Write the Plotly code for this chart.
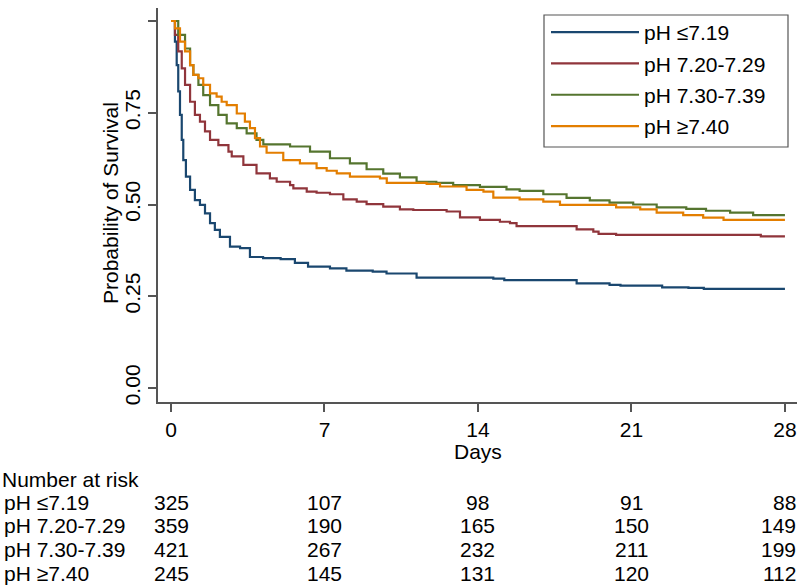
import plotly.graph_objects as go

# ---- data ----
group_names = ["pH ≤7.19", "pH 7.20-7.29", "pH 7.30-7.39", "pH ≥7.40"]
group_colors = ["#1a476f", "#90353b", "#55752f", "#e37e00"]

days_g1 = [0, 0.18, 0.26, 0.33, 0.41, 0.49, 0.56, 0.68, 0.87, 1.09, 1.32, 1.55, 1.78, 2.0, 2.23, 2.69,
           3.15, 3.6, 4.2, 5.0, 5.65, 6.25, 7.25, 8.0, 9.2, 9.83, 11.2, 14.7, 15.2, 18.5, 20.0, 20.5,
           22.4, 23.6, 24.3, 28.0]
surv_g1 = [1.0, 0.944, 0.88, 0.808, 0.744, 0.676, 0.621, 0.576, 0.540, 0.512, 0.499, 0.476, 0.449, 0.431,
           0.412, 0.385, 0.381, 0.357, 0.354, 0.351, 0.341, 0.331, 0.326, 0.320, 0.317, 0.312, 0.301,
           0.298, 0.294, 0.285, 0.281, 0.279, 0.274, 0.273, 0.270, 0.270]

days_g2 = [0, 0.18, 0.33, 0.49, 0.64, 0.87, 1.09, 1.32, 1.55, 1.78, 2.16, 2.62, 2.77, 3.3, 3.9, 4.51,
           4.82, 5.43, 5.58, 6.19, 6.64, 7.25, 7.86, 8.47, 8.92, 9.68, 10.44, 11.05, 12.57, 13.18, 14.09,
           15.0, 15.46, 15.76, 18.5, 19.26, 19.5, 20.3, 26.9, 28.0]
surv_g2 = [1.0, 0.962, 0.917, 0.871, 0.826, 0.780, 0.744, 0.726, 0.699, 0.676, 0.662, 0.644, 0.631, 0.608,
           0.585, 0.571, 0.562, 0.553, 0.544, 0.535, 0.532, 0.528, 0.514, 0.508, 0.501, 0.494, 0.487,
           0.485, 0.481, 0.465, 0.458, 0.453, 0.449, 0.441, 0.432, 0.426, 0.420, 0.417, 0.413, 0.413]

days_g3 = [0, 0.33, 0.64, 0.87, 1.02, 1.25, 1.47, 1.78, 2.16, 2.54, 3.0, 3.45, 3.9, 4.21, 5.43, 6.34,
           7.25, 8.16, 8.92, 9.68, 10.44, 11.2, 12.1, 12.87, 14.09, 15.3, 15.9, 16.98, 18.04, 19.1, 20.0,
           21.08, 22.15, 23.5, 24.4, 25.5, 26.55, 28.0]
surv_g3 = [1.0, 0.962, 0.925, 0.880, 0.853, 0.826, 0.798, 0.771, 0.744, 0.721, 0.708, 0.694, 0.676, 0.664,
           0.658, 0.644, 0.626, 0.612, 0.596, 0.584, 0.574, 0.562, 0.559, 0.553, 0.548, 0.541, 0.537,
           0.528, 0.518, 0.511, 0.505, 0.500, 0.492, 0.488, 0.483, 0.478, 0.471, 0.471]

days_g4 = [0, 0.18, 0.41, 0.64, 0.87, 1.02, 1.25, 1.47, 1.78, 2.08, 2.31, 2.54, 3.0, 3.37, 3.6, 3.83,
           4.06, 4.36, 5.12, 5.88, 6.64, 7.1, 7.56, 8.16, 9.53, 9.84, 11.66, 12.27, 13.48, 14.25, 14.7,
           15.9, 16.98, 17.74, 20.3, 21.4, 22.15, 23.36, 24.27, 25.2, 28.0]
surv_g4 = [1.0, 0.98, 0.944, 0.917, 0.880, 0.853, 0.844, 0.826, 0.803, 0.794, 0.780, 0.771, 0.748, 0.726,
           0.708, 0.681, 0.658, 0.641, 0.621, 0.612, 0.599, 0.592, 0.585, 0.576, 0.571, 0.559, 0.556,
           0.549, 0.540, 0.535, 0.519, 0.514, 0.508, 0.499, 0.492, 0.487, 0.478, 0.471, 0.464, 0.458, 0.458]

x_ticks = [0, 7, 14, 21, 28]
y_ticks = [0.0, 0.25, 0.5, 0.75, 1.0]
y_tick_labels = ["0.00", "0.25", "0.50", "0.75", "1.00"]
x_title = "Days"
y_title = "Probability of Survival"
risk_title = "Number at risk"

risk_times = [0, 7, 14, 21, 28]
risk_g1 = [325, 107, 98, 91, 88]
risk_g2 = [359, 190, 165, 150, 149]
risk_g3 = [421, 267, 232, 211, 199]
risk_g4 = [245, 145, 131, 120, 112]

# ---- figure ----
FONT = "Liberation Sans, Arial, sans-serif"
FS = 21
W, H = 800, 587
ML, MR, MT, MB = 158, 3, 8, 185
PW = W - ML - MR
PH = H - MT - MB
AX = "#555555"

days_all = [days_g1, days_g2, days_g3, days_g4]
surv_all = [surv_g1, surv_g2, surv_g3, surv_g4]
risk_all = [risk_g1, risk_g2, risk_g3, risk_g4]

fig = go.Figure()
for i in range(4):
    fig.add_trace(go.Scatter(
        x=days_all[i], y=surv_all[i], mode="lines", name=group_names[i],
        line=dict(color=group_colors[i], width=2.2, shape="hv"),
        legendgroup=f"g{i}",
    ))

def py_to_paper(py):
    return (H - MB - py) / PH

def px_to_paper(px):
    return (px - ML) / PW

txt = dict(family=FONT, size=FS, color="#000")
annotations = []
# axis titles
annotations.append(dict(xref="x", yref="paper", x=14, y=py_to_paper(451), text=x_title,
                        showarrow=False, xanchor="center", yanchor="middle", font=txt))
annotations.append(dict(xref="paper", yref="paper", x=px_to_paper(110), y=py_to_paper(203), text=y_title,
                        textangle=-90, showarrow=False, xanchor="center", yanchor="middle", font=txt))
# number at risk table
annotations.append(dict(xref="paper", yref="paper", x=px_to_paper(0), y=py_to_paper(479),
                        text=risk_title, showarrow=False, xanchor="left", yanchor="middle", font=txt))
row_y = [502, 525, 549, 573]
for i in range(4):
    annotations.append(dict(xref="paper", yref="paper", x=px_to_paper(2), y=py_to_paper(row_y[i]),
                            text=group_names[i], showarrow=False, xanchor="left", yanchor="middle",
                            font=txt))
    for j, (t, n) in enumerate(zip(risk_times, risk_all[i])):
        last = j == len(risk_times) - 1
        annotations.append(dict(xref="x", yref="paper", x=t, y=py_to_paper(row_y[i]),
                                text=str(n), showarrow=False,
                                xanchor="right" if last else "center",
                                xshift=13 if last else 0, yanchor="middle", font=txt))

# legend frame
shapes = [dict(type="rect", xref="paper", yref="paper",
               x0=px_to_paper(544), x1=px_to_paper(788), y0=py_to_paper(147), y1=py_to_paper(15),
               line=dict(color=AX, width=1.2), fillcolor="rgba(0,0,0,0)", layer="above")]

fig.update_layout(
    width=W, height=H,
    margin=dict(l=ML, r=MR, t=MT, b=MB, autoexpand=False),
    paper_bgcolor="white", plot_bgcolor="white",
    font=txt,
    showlegend=True,
    legend=dict(
        x=px_to_paper(546), y=py_to_paper(12), xanchor="left", yanchor="top",
        borderwidth=0, bgcolor="rgba(0,0,0,0)", font=txt,
        traceorder="grouped", tracegroupgap=1, itemwidth=88,
    ),
    xaxis=dict(
        range=[-0.593, 28.55], tickvals=x_ticks, ticktext=[str(v) for v in x_ticks],
        showgrid=False, zeroline=False, showline=True, linecolor=AX, linewidth=1.5,
        ticks="outside", ticklen=8, tickwidth=1.5, tickcolor=AX, automargin=False,
        tickfont=txt,
    ),
    yaxis=dict(
        range=[-0.0381, 1.0354], tickvals=y_ticks, ticktext=y_tick_labels, tickangle=-90,
        showgrid=False, zeroline=False, showline=True, linecolor=AX, linewidth=1.5,
        ticks="outside", ticklen=8, tickwidth=1.5, tickcolor=AX, automargin=False,
        tickfont=txt,
    ),
    annotations=annotations,
    shapes=shapes,
)

fig.write_html("out.html", config={"displayModeBar": False},
               post_script="document.body.style.margin='0';")
